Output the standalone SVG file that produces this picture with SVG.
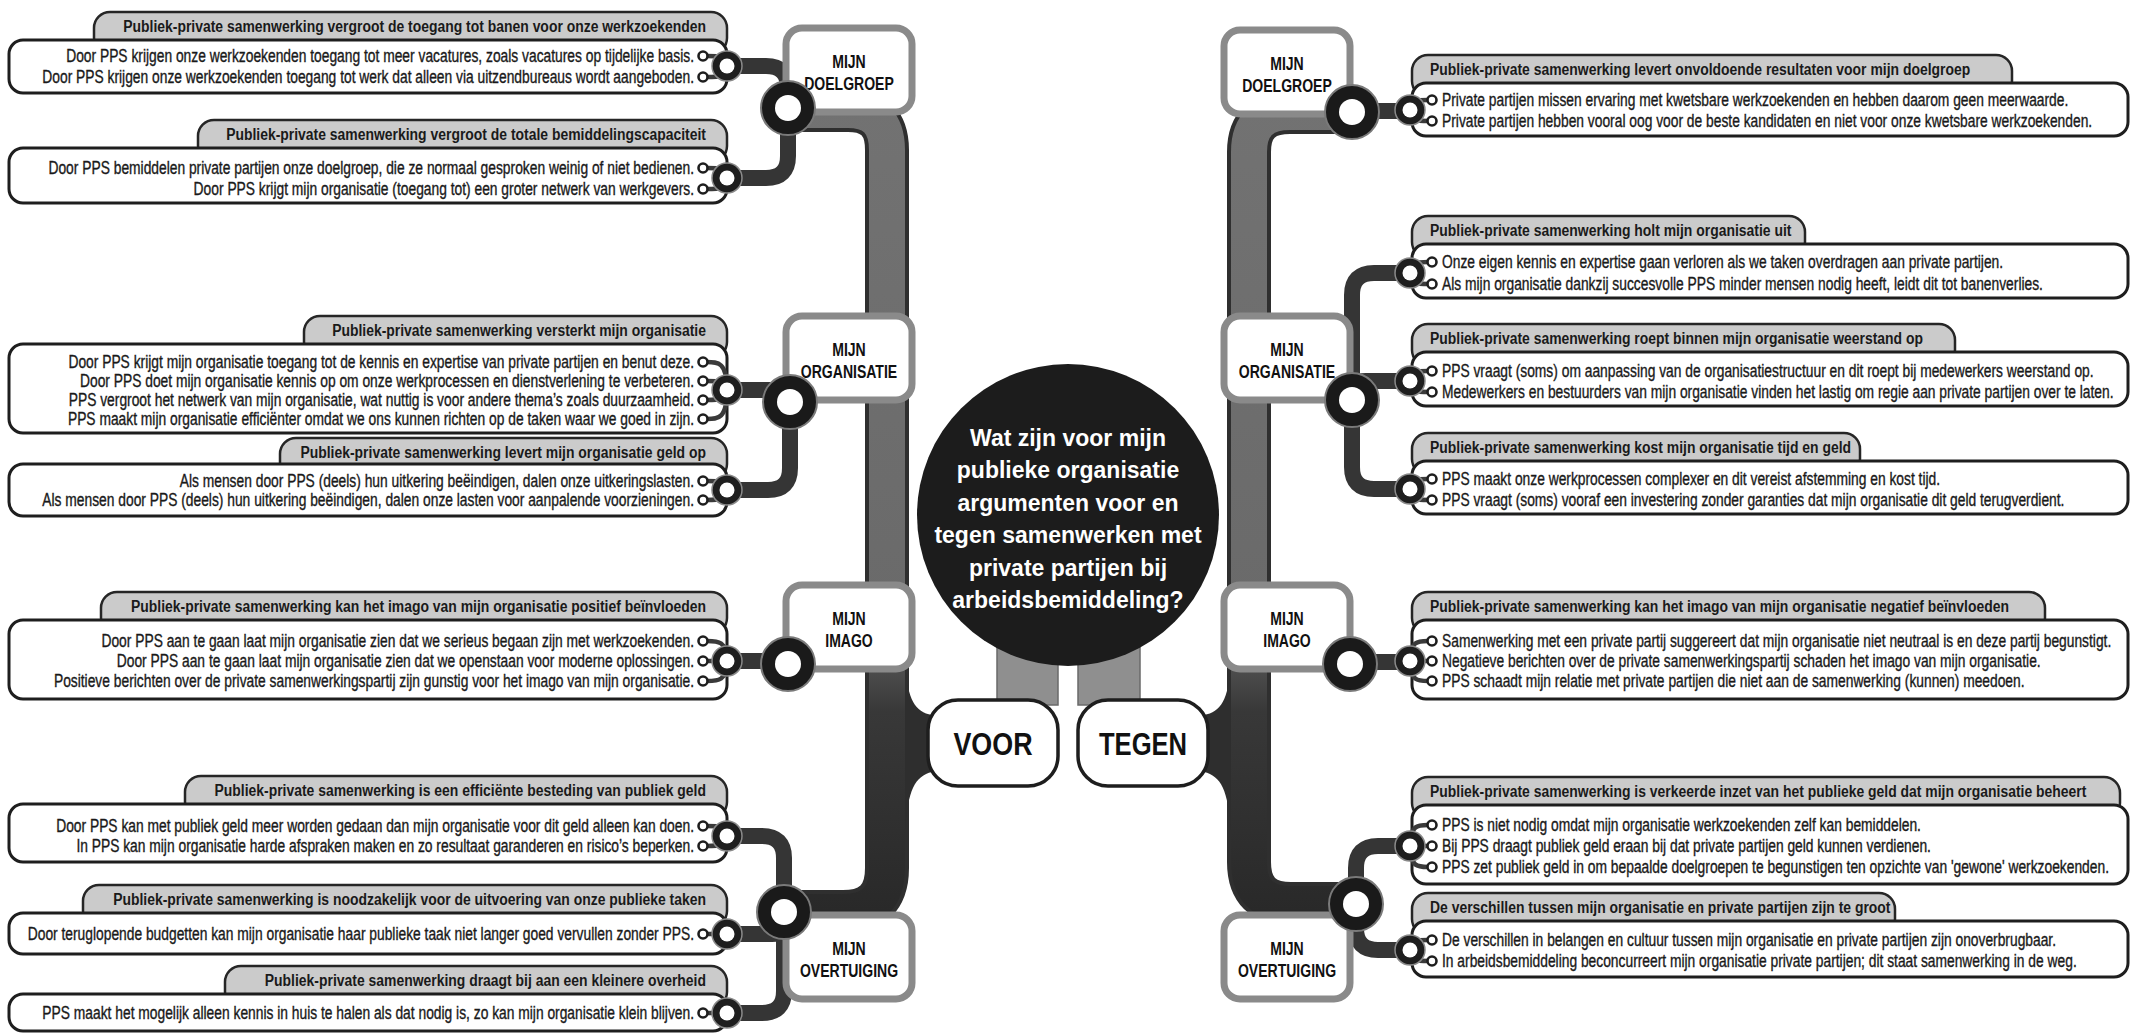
<svg xmlns="http://www.w3.org/2000/svg" width="2133" height="1033" viewBox="0 0 2133 1033">
<defs>
<style>
.ln{font-family:"Liberation Sans",Arial,sans-serif;font-size:17.5px;fill:#1a1a1a;stroke:#1a1a1a;stroke-width:0.35}
.hd{font-family:"Liberation Sans",Arial,sans-serif;font-weight:bold;font-size:17px;fill:#1a1a1a}
.cat{font-family:"Liberation Sans",Arial,sans-serif;font-weight:bold;font-size:18px;fill:#111;text-anchor:middle}
.q{font-family:"Liberation Sans",Arial,sans-serif;font-weight:bold;font-size:23px;fill:#fff;text-anchor:middle}
.side{font-family:"Liberation Sans",Arial,sans-serif;font-weight:bold;font-size:32px;fill:#111;text-anchor:middle}
.end{text-anchor:end}
.tab{fill:#cbcbcb;stroke:#262626;stroke-width:2.5}
.box{fill:#fff;stroke:#1e1e1e;stroke-width:3}
.cbox{fill:#fff;stroke:#8a8a8a;stroke-width:7}
.wire{fill:none;stroke:#3a3a3a;stroke-width:4.5;stroke-linecap:round}
.bul{fill:#fff;stroke:#1e1e1e;stroke-width:2.6}
.sr{fill:#1e1e1e;stroke:#8a8a8a;stroke-width:1.5}
.hole{fill:#fff}
.br{fill:#1a1a1a;stroke:#7a7a7a;stroke-width:2}
.band{fill:none;stroke:#353535;stroke-width:16;stroke-linejoin:round}
.link{fill:none;stroke:#3a3a3a;stroke-width:22}
.trunkOut{fill:none;stroke:#2f2f2f;stroke-width:44;stroke-linejoin:round}
.trunkIn{fill:none;stroke:url(#trunkGrad);stroke-width:36;stroke-linejoin:round}
.bar{fill:#8f8f8f;stroke:#6a6a6a;stroke-width:1.5}
.join{fill:#2e2e2e}
</style>
<linearGradient id="trunkGrad" gradientUnits="userSpaceOnUse" x1="0" y1="100" x2="0" y2="950">
<stop offset="0" stop-color="#727272"/>
<stop offset="0.6" stop-color="#6a6a6a"/>
<stop offset="0.72" stop-color="#383838"/>
<stop offset="1" stop-color="#262626"/>
</linearGradient>
</defs>
<rect width="2133" height="1033" fill="#fff"/>

<!-- trunks, branch bands and the bars under the question circle -->
<g id="connectors">
<rect class="bar" x="997" y="600" width="61" height="105"/>
<rect class="bar" x="1078" y="600" width="62" height="105"/>
<path class="trunkOut" d="M790 110 H848 Q887 110 887 150 V868 Q887 912 843 912 H784"/>
<path class="trunkIn" d="M790 110 H848 Q887 110 887 150 V868 Q887 912 843 912 H784"/>
<path class="trunkOut" d="M1352 112 H1290 Q1249 112 1249 152 V862 Q1249 904 1291 904 H1356"/>
<path class="trunkIn" d="M1352 112 H1290 Q1249 112 1249 152 V862 Q1249 904 1291 904 H1356"/>
<path class="join" d="M905 665 C908 700 915 712 932 715 L932 772 C915 776 908 790 905 830 Z"/>
<path class="join" d="M1231 665 C1228 700 1221 712 1204 715 L1204 772 C1221 776 1228 790 1231 830 Z"/>
<path class="link" d="M790 392 H887"/>
<path class="link" d="M788 652 H887"/>
<path class="link" d="M1352 392 H1249"/>
<path class="link" d="M1350 652 H1249"/>
<path class="band" d="M788 108 V88 Q788 66 766 66 H727"/>
<path class="band" d="M788 108 V156 Q788 178 766 178 H727"/>
<path class="band" d="M727 390 H772 Q790 390 790 402"/>
<path class="band" d="M790 402 V468 Q790 490 768 490 H727"/>
<path class="band" d="M727 661 H788"/>
<path class="band" d="M784 912 V858 Q784 836 762 836 H727"/>
<path class="band" d="M784 912 V922 Q784 934 772 934 H727"/>
<path class="band" d="M784 912 V991 Q784 1013 762 1013 H727"/>
<path class="band" d="M1352 111 H1410"/>
<path class="band" d="M1352 400 V295 Q1352 273 1374 273 H1410"/>
<path class="band" d="M1352 395 Q1352 381 1366 381 H1410"/>
<path class="band" d="M1352 400 V467 Q1352 489 1374 489 H1410"/>
<path class="band" d="M1350 662 H1410"/>
<path class="band" d="M1356 904 V868 Q1356 846 1378 846 H1410"/>
<path class="band" d="M1356 904 V928 Q1356 950 1378 950 H1410"/>
</g>

<!-- central question -->
<g id="question">
<circle cx="1068" cy="515" r="151" fill="#1c1c1c"/>
<text class="q" x="1068" y="446">Wat zijn voor mijn</text>
<text class="q" x="1068" y="478">publieke organisatie</text>
<text class="q" x="1068" y="511">argumenten voor en</text>
<text class="q" x="1068" y="543">tegen samenwerken met</text>
<text class="q" x="1068" y="576">private partijen bij</text>
<text class="q" x="1068" y="608">arbeidsbemiddeling?</text>
</g>

<g id="voor">
<rect x="928" y="700" width="130" height="86" rx="30" fill="#fff" stroke="#1e1e1e" stroke-width="3.5"/>
<text class="side" transform="matrix(0.84 0 0 1 993 0)" y="755">VOOR</text>
</g>
<g id="tegen">
<rect x="1078" y="700" width="130" height="86" rx="30" fill="#fff" stroke="#1e1e1e" stroke-width="3.5"/>
<text class="side" transform="matrix(0.8 0 0 1 1143 0)" y="755">TEGEN</text>
</g>

<!-- category nodes, VOOR side -->
<g id="voor-doelgroep">
<rect class="cbox" x="786" y="28" width="126" height="84" rx="16"/>
<g class="cat" transform="matrix(0.78 0 0 1 849 0)"><text y="68">MIJN</text><text y="90">DOELGROEP</text></g>
<circle class="br" cx="788" cy="108" r="27"/><circle class="hole" cx="788" cy="108" r="13"/>
</g>
<g id="voor-organisatie">
<rect class="cbox" x="786" y="316" width="126" height="84" rx="16"/>
<g class="cat" transform="matrix(0.78 0 0 1 849 0)"><text y="356">MIJN</text><text y="378">ORGANISATIE</text></g>
<circle class="br" cx="790" cy="402" r="27"/><circle class="hole" cx="790" cy="402" r="13"/>
</g>
<g id="voor-imago">
<rect class="cbox" x="786" y="585" width="126" height="84" rx="16"/>
<g class="cat" transform="matrix(0.78 0 0 1 849 0)"><text y="625">MIJN</text><text y="647">IMAGO</text></g>
<circle class="br" cx="788" cy="664" r="27"/><circle class="hole" cx="788" cy="664" r="13"/>
</g>
<g id="voor-overtuiging">
<rect class="cbox" x="786" y="915" width="126" height="84" rx="16"/>
<g class="cat" transform="matrix(0.78 0 0 1 849 0)"><text y="955">MIJN</text><text y="977">OVERTUIGING</text></g>
<circle class="br" cx="784" cy="912" r="27"/><circle class="hole" cx="784" cy="912" r="13"/>
</g>

<!-- category nodes, TEGEN side -->
<g id="tegen-doelgroep">
<rect class="cbox" x="1224" y="30" width="126" height="84" rx="16"/>
<g class="cat" transform="matrix(0.78 0 0 1 1287 0)"><text y="70">MIJN</text><text y="92">DOELGROEP</text></g>
<circle class="br" cx="1352" cy="112" r="27"/><circle class="hole" cx="1352" cy="112" r="13"/>
</g>
<g id="tegen-organisatie">
<rect class="cbox" x="1224" y="316" width="126" height="84" rx="16"/>
<g class="cat" transform="matrix(0.78 0 0 1 1287 0)"><text y="356">MIJN</text><text y="378">ORGANISATIE</text></g>
<circle class="br" cx="1352" cy="400" r="27"/><circle class="hole" cx="1352" cy="400" r="13"/>
</g>
<g id="tegen-imago">
<rect class="cbox" x="1224" y="585" width="126" height="84" rx="16"/>
<g class="cat" transform="matrix(0.78 0 0 1 1287 0)"><text y="625">MIJN</text><text y="647">IMAGO</text></g>
<circle class="br" cx="1350" cy="664" r="27"/><circle class="hole" cx="1350" cy="664" r="13"/>
</g>
<g id="tegen-overtuiging">
<rect class="cbox" x="1224" y="915" width="126" height="84" rx="16"/>
<g class="cat" transform="matrix(0.78 0 0 1 1287 0)"><text y="955">MIJN</text><text y="977">OVERTUIGING</text></g>
<circle class="br" cx="1356" cy="904" r="27"/><circle class="hole" cx="1356" cy="904" r="13"/>
</g>

<!-- argument groups, VOOR side: headings end at x=706, lines end at x=694 -->
<g id="voor-banen">
<rect class="tab" x="94" y="12" width="633" height="42" rx="16"/>
<text class="hd end" transform="matrix(0.82 0 0 1 706 0)" y="32">Publiek-private samenwerking vergroot de toegang tot banen voor onze werkzoekenden</text>
<rect class="box" x="9" y="40" width="718" height="53" rx="14"/>
<g class="ln end" transform="matrix(0.79 0 0 1 694 0)">
<text y="62">Door PPS krijgen onze werkzoekenden toegang tot meer vacatures, zoals vacatures op tijdelijke basis.</text>
<text y="83">Door PPS krijgen onze werkzoekenden toegang tot werk dat alleen via uitzendbureaus wordt aangeboden.</text>
</g>
<path class="wire" d="M707 56C718 56 727 56 727 66M707 77C718 77 727 77 727 66"/>
<circle class="bul" cx="703" cy="56" r="4.5"/><circle class="bul" cx="703" cy="77" r="4.5"/>
<circle class="sr" cx="727" cy="66" r="15"/><circle class="hole" cx="727" cy="66" r="7.5"/>
</g>
<g id="voor-capaciteit">
<rect class="tab" x="198" y="120" width="529" height="42" rx="16"/>
<text class="hd end" transform="matrix(0.82 0 0 1 706 0)" y="140">Publiek-private samenwerking vergroot de totale bemiddelingscapaciteit</text>
<rect class="box" x="9" y="148" width="718" height="55" rx="14"/>
<g class="ln end" transform="matrix(0.79 0 0 1 694 0)">
<text y="174">Door PPS bemiddelen private partijen onze doelgroep, die ze normaal gesproken weinig of niet bedienen.</text>
<text y="195">Door PPS krijgt mijn organisatie (toegang tot) een groter netwerk van werkgevers.</text>
</g>
<path class="wire" d="M707 168C718 168 727 168 727 178M707 189C718 189 727 189 727 178"/>
<circle class="bul" cx="703" cy="168" r="4.5"/><circle class="bul" cx="703" cy="189" r="4.5"/>
<circle class="sr" cx="727" cy="178" r="15"/><circle class="hole" cx="727" cy="178" r="7.5"/>
</g>
<g id="voor-versterkt">
<rect class="tab" x="304" y="316" width="423" height="42" rx="16"/>
<text class="hd end" transform="matrix(0.82 0 0 1 706 0)" y="336">Publiek-private samenwerking versterkt mijn organisatie</text>
<rect class="box" x="9" y="344" width="718" height="89" rx="14"/>
<g class="ln end" transform="matrix(0.79 0 0 1 694 0)">
<text y="368">Door PPS krijgt mijn organisatie toegang tot de kennis en expertise van private partijen en benut deze.</text>
<text y="387">Door PPS doet mijn organisatie kennis op om onze werkprocessen en dienstverlening te verbeteren.</text>
<text y="406">PPS vergroot het netwerk van mijn organisatie, wat nuttig is voor andere thema’s zoals duurzaamheid.</text>
<text y="425">PPS maakt mijn organisatie efficiënter omdat we ons kunnen richten op de taken waar we goed in zijn.</text>
</g>
<path class="wire" d="M707 362C718 362 727 362 727 390M707 381C718 381 727 381 727 390M707 400C718 400 727 400 727 390M707 419C718 419 727 419 727 390"/>
<circle class="bul" cx="703" cy="362" r="4.5"/><circle class="bul" cx="703" cy="381" r="4.5"/><circle class="bul" cx="703" cy="400" r="4.5"/><circle class="bul" cx="703" cy="419" r="4.5"/>
<circle class="sr" cx="727" cy="390" r="15"/><circle class="hole" cx="727" cy="390" r="7.5"/>
</g>
<g id="voor-geld">
<rect class="tab" x="280" y="438" width="447" height="42" rx="16"/>
<text class="hd end" transform="matrix(0.82 0 0 1 706 0)" y="458">Publiek-private samenwerking levert mijn organisatie geld op</text>
<rect class="box" x="9" y="464" width="718" height="52" rx="14"/>
<g class="ln end" transform="matrix(0.79 0 0 1 694 0)">
<text y="487">Als mensen door PPS (deels) hun uitkering beëindigen, dalen onze uitkeringslasten.</text>
<text y="506">Als mensen door PPS (deels) hun uitkering beëindigen, dalen onze lasten voor aanpalende voorzieningen.</text>
</g>
<path class="wire" d="M707 481C718 481 727 481 727 490M707 500C718 500 727 500 727 490"/>
<circle class="bul" cx="703" cy="481" r="4.5"/><circle class="bul" cx="703" cy="500" r="4.5"/>
<circle class="sr" cx="727" cy="490" r="15"/><circle class="hole" cx="727" cy="490" r="7.5"/>
</g>
<g id="voor-imago-positief">
<rect class="tab" x="101" y="592" width="626" height="42" rx="16"/>
<text class="hd end" transform="matrix(0.82 0 0 1 706 0)" y="612">Publiek-private samenwerking kan het imago van mijn organisatie positief beïnvloeden</text>
<rect class="box" x="9" y="620" width="718" height="79" rx="14"/>
<g class="ln end" transform="matrix(0.79 0 0 1 694 0)">
<text y="647">Door PPS aan te gaan laat mijn organisatie zien dat we serieus begaan zijn met werkzoekenden.</text>
<text y="667">Door PPS aan te gaan laat mijn organisatie zien dat we openstaan voor moderne oplossingen.</text>
<text y="687">Positieve berichten over de private samenwerkingspartij zijn gunstig voor het imago van mijn organisatie.</text>
</g>
<path class="wire" d="M707 641C718 641 727 641 727 661M707 661H727M707 681C718 681 727 681 727 661"/>
<circle class="bul" cx="703" cy="641" r="4.5"/><circle class="bul" cx="703" cy="661" r="4.5"/><circle class="bul" cx="703" cy="681" r="4.5"/>
<circle class="sr" cx="727" cy="661" r="15"/><circle class="hole" cx="727" cy="661" r="7.5"/>
</g>
<g id="voor-besteding">
<rect class="tab" x="185" y="776" width="542" height="42" rx="16"/>
<text class="hd end" transform="matrix(0.82 0 0 1 706 0)" y="796">Publiek-private samenwerking is een efficiënte besteding van publiek geld</text>
<rect class="box" x="9" y="804" width="718" height="58" rx="14"/>
<g class="ln end" transform="matrix(0.79 0 0 1 694 0)">
<text y="832">Door PPS kan met publiek geld meer worden gedaan dan mijn organisatie voor dit geld alleen kan doen.</text>
<text y="852">In PPS kan mijn organisatie harde afspraken maken en zo resultaat garanderen en risico’s beperken.</text>
</g>
<path class="wire" d="M707 826C718 826 727 826 727 836M707 846C718 846 727 846 727 836"/>
<circle class="bul" cx="703" cy="826" r="4.5"/><circle class="bul" cx="703" cy="846" r="4.5"/>
<circle class="sr" cx="727" cy="836" r="15"/><circle class="hole" cx="727" cy="836" r="7.5"/>
</g>
<g id="voor-publieke-taken">
<rect class="tab" x="83" y="885" width="644" height="42" rx="16"/>
<text class="hd end" transform="matrix(0.82 0 0 1 706 0)" y="905">Publiek-private samenwerking is noodzakelijk voor de uitvoering van onze publieke taken</text>
<rect class="box" x="9" y="913" width="718" height="41" rx="14"/>
<g class="ln end" transform="matrix(0.79 0 0 1 694 0)">
<text y="940">Door teruglopende budgetten kan mijn organisatie haar publieke taak niet langer goed vervullen zonder PPS.</text>
</g>
<path class="wire" d="M707 934H727"/>
<circle class="bul" cx="703" cy="934" r="4.5"/>
<circle class="sr" cx="727" cy="934" r="15"/><circle class="hole" cx="727" cy="934" r="7.5"/>
</g>
<g id="voor-overheid">
<rect class="tab" x="225" y="966" width="502" height="42" rx="16"/>
<text class="hd end" transform="matrix(0.82 0 0 1 706 0)" y="986">Publiek-private samenwerking draagt bij aan een kleinere overheid</text>
<rect class="box" x="9" y="994" width="718" height="37" rx="14"/>
<g class="ln end" transform="matrix(0.79 0 0 1 694 0)">
<text y="1019">PPS maakt het mogelijk alleen kennis in huis te halen als dat nodig is, zo kan mijn organisatie klein blijven.</text>
</g>
<path class="wire" d="M707 1013H727"/>
<circle class="bul" cx="703" cy="1013" r="4.5"/>
<circle class="sr" cx="727" cy="1013" r="15"/><circle class="hole" cx="727" cy="1013" r="7.5"/>
</g>

<!-- argument groups, TEGEN side: headings start at x=1430, lines start at x=1442 -->
<g id="tegen-resultaten">
<rect class="tab" x="1412" y="55" width="600" height="42" rx="16"/>
<text class="hd" transform="matrix(0.82 0 0 1 1430 0)" y="75">Publiek-private samenwerking levert onvoldoende resultaten voor mijn doelgroep</text>
<rect class="box" x="1412" y="83" width="716" height="53" rx="14"/>
<g class="ln" transform="matrix(0.79 0 0 1 1442 0)">
<text y="106">Private partijen missen ervaring met kwetsbare werkzoekenden en hebben daarom geen meerwaarde.</text>
<text y="127">Private partijen hebben vooral oog voor de beste kandidaten en niet voor onze kwetsbare werkzoekenden.</text>
</g>
<path class="wire" d="M1428 100C1418 100 1410 100 1410 110M1428 121C1418 121 1410 121 1410 110"/>
<circle class="bul" cx="1432" cy="100" r="4.5"/><circle class="bul" cx="1432" cy="121" r="4.5"/>
<circle class="sr" cx="1410" cy="110" r="15"/><circle class="hole" cx="1410" cy="110" r="7.5"/>
</g>
<g id="tegen-holt-uit">
<rect class="tab" x="1412" y="216" width="393" height="42" rx="16"/>
<text class="hd" transform="matrix(0.82 0 0 1 1430 0)" y="236">Publiek-private samenwerking holt mijn organisatie uit</text>
<rect class="box" x="1412" y="244" width="716" height="54" rx="14"/>
<g class="ln" transform="matrix(0.79 0 0 1 1442 0)">
<text y="268">Onze eigen kennis en expertise gaan verloren als we taken overdragen aan private partijen.</text>
<text y="290">Als mijn organisatie dankzij succesvolle PPS minder mensen nodig heeft, leidt dit tot banenverlies.</text>
</g>
<path class="wire" d="M1428 262C1418 262 1410 262 1410 273M1428 284C1418 284 1410 284 1410 273"/>
<circle class="bul" cx="1432" cy="262" r="4.5"/><circle class="bul" cx="1432" cy="284" r="4.5"/>
<circle class="sr" cx="1410" cy="273" r="15"/><circle class="hole" cx="1410" cy="273" r="7.5"/>
</g>
<g id="tegen-weerstand">
<rect class="tab" x="1412" y="324" width="543" height="42" rx="16"/>
<text class="hd" transform="matrix(0.82 0 0 1 1430 0)" y="344">Publiek-private samenwerking roept binnen mijn organisatie weerstand op</text>
<rect class="box" x="1412" y="352" width="716" height="54" rx="14"/>
<g class="ln" transform="matrix(0.79 0 0 1 1442 0)">
<text y="377">PPS vraagt (soms) om aanpassing van de organisatiestructuur en dit roept bij medewerkers weerstand op.</text>
<text y="398">Medewerkers en bestuurders van mijn organisatie vinden het lastig om regie aan private partijen over te laten.</text>
</g>
<path class="wire" d="M1428 371C1418 371 1410 371 1410 381M1428 392C1418 392 1410 392 1410 381"/>
<circle class="bul" cx="1432" cy="371" r="4.5"/><circle class="bul" cx="1432" cy="392" r="4.5"/>
<circle class="sr" cx="1410" cy="381" r="15"/><circle class="hole" cx="1410" cy="381" r="7.5"/>
</g>
<g id="tegen-tijd-geld">
<rect class="tab" x="1412" y="433" width="448" height="42" rx="16"/>
<text class="hd" transform="matrix(0.82 0 0 1 1430 0)" y="453">Publiek-private samenwerking kost mijn organisatie tijd en geld</text>
<rect class="box" x="1412" y="461" width="716" height="53" rx="14"/>
<g class="ln" transform="matrix(0.79 0 0 1 1442 0)">
<text y="485">PPS maakt onze werkprocessen complexer en dit vereist afstemming en kost tijd.</text>
<text y="506">PPS vraagt (soms) vooraf een investering zonder garanties dat mijn organisatie dit geld terugverdient.</text>
</g>
<path class="wire" d="M1428 479C1418 479 1410 479 1410 489M1428 500C1418 500 1410 500 1410 489"/>
<circle class="bul" cx="1432" cy="479" r="4.5"/><circle class="bul" cx="1432" cy="500" r="4.5"/>
<circle class="sr" cx="1410" cy="489" r="15"/><circle class="hole" cx="1410" cy="489" r="7.5"/>
</g>
<g id="tegen-imago-negatief">
<rect class="tab" x="1412" y="592" width="633" height="42" rx="16"/>
<text class="hd" transform="matrix(0.82 0 0 1 1430 0)" y="612">Publiek-private samenwerking kan het imago van mijn organisatie negatief beïnvloeden</text>
<rect class="box" x="1412" y="620" width="716" height="79" rx="14"/>
<g class="ln" transform="matrix(0.79 0 0 1 1442 0)">
<text y="647">Samenwerking met een private partij suggereert dat mijn organisatie niet neutraal is en deze partij begunstigt.</text>
<text y="667">Negatieve berichten over de private samenwerkingspartij schaden het imago van mijn organisatie.</text>
<text y="687">PPS schaadt mijn relatie met private partijen die niet aan de samenwerking (kunnen) meedoen.</text>
</g>
<path class="wire" d="M1428 641C1418 641 1410 641 1410 661M1428 661H1410M1428 681C1418 681 1410 681 1410 661"/>
<circle class="bul" cx="1432" cy="641" r="4.5"/><circle class="bul" cx="1432" cy="661" r="4.5"/><circle class="bul" cx="1432" cy="681" r="4.5"/>
<circle class="sr" cx="1410" cy="661" r="15"/><circle class="hole" cx="1410" cy="661" r="7.5"/>
</g>
<g id="tegen-verkeerde-inzet">
<rect class="tab" x="1412" y="777" width="708" height="42" rx="16"/>
<text class="hd" transform="matrix(0.82 0 0 1 1430 0)" y="797">Publiek-private samenwerking is verkeerde inzet van het publieke geld dat mijn organisatie beheert</text>
<rect class="box" x="1412" y="805" width="716" height="79" rx="14"/>
<g class="ln" transform="matrix(0.79 0 0 1 1442 0)">
<text y="831">PPS is niet nodig omdat mijn organisatie werkzoekenden zelf kan bemiddelen.</text>
<text y="852">Bij PPS draagt publiek geld eraan bij dat private partijen geld kunnen verdienen.</text>
<text y="873">PPS zet publiek geld in om bepaalde doelgroepen te begunstigen ten opzichte van 'gewone' werkzoekenden.</text>
</g>
<path class="wire" d="M1428 825C1418 825 1410 825 1410 846M1428 846H1410M1428 867C1418 867 1410 867 1410 846"/>
<circle class="bul" cx="1432" cy="825" r="4.5"/><circle class="bul" cx="1432" cy="846" r="4.5"/><circle class="bul" cx="1432" cy="867" r="4.5"/>
<circle class="sr" cx="1410" cy="846" r="15"/><circle class="hole" cx="1410" cy="846" r="7.5"/>
</g>
<g id="tegen-verschillen">
<rect class="tab" x="1412" y="893" width="483" height="42" rx="16"/>
<text class="hd" transform="matrix(0.82 0 0 1 1430 0)" y="913">De verschillen tussen mijn organisatie en private partijen zijn te groot</text>
<rect class="box" x="1412" y="921" width="716" height="56" rx="14"/>
<g class="ln" transform="matrix(0.79 0 0 1 1442 0)">
<text y="946">De verschillen in belangen en cultuur tussen mijn organisatie en private partijen zijn onoverbrugbaar.</text>
<text y="967">In arbeidsbemiddeling beconcurreert mijn organisatie private partijen; dit staat samenwerking in de weg.</text>
</g>
<path class="wire" d="M1428 940C1418 940 1410 940 1410 950M1428 961C1418 961 1410 961 1410 950"/>
<circle class="bul" cx="1432" cy="940" r="4.5"/><circle class="bul" cx="1432" cy="961" r="4.5"/>
<circle class="sr" cx="1410" cy="950" r="15"/><circle class="hole" cx="1410" cy="950" r="7.5"/>
</g>
</svg>
